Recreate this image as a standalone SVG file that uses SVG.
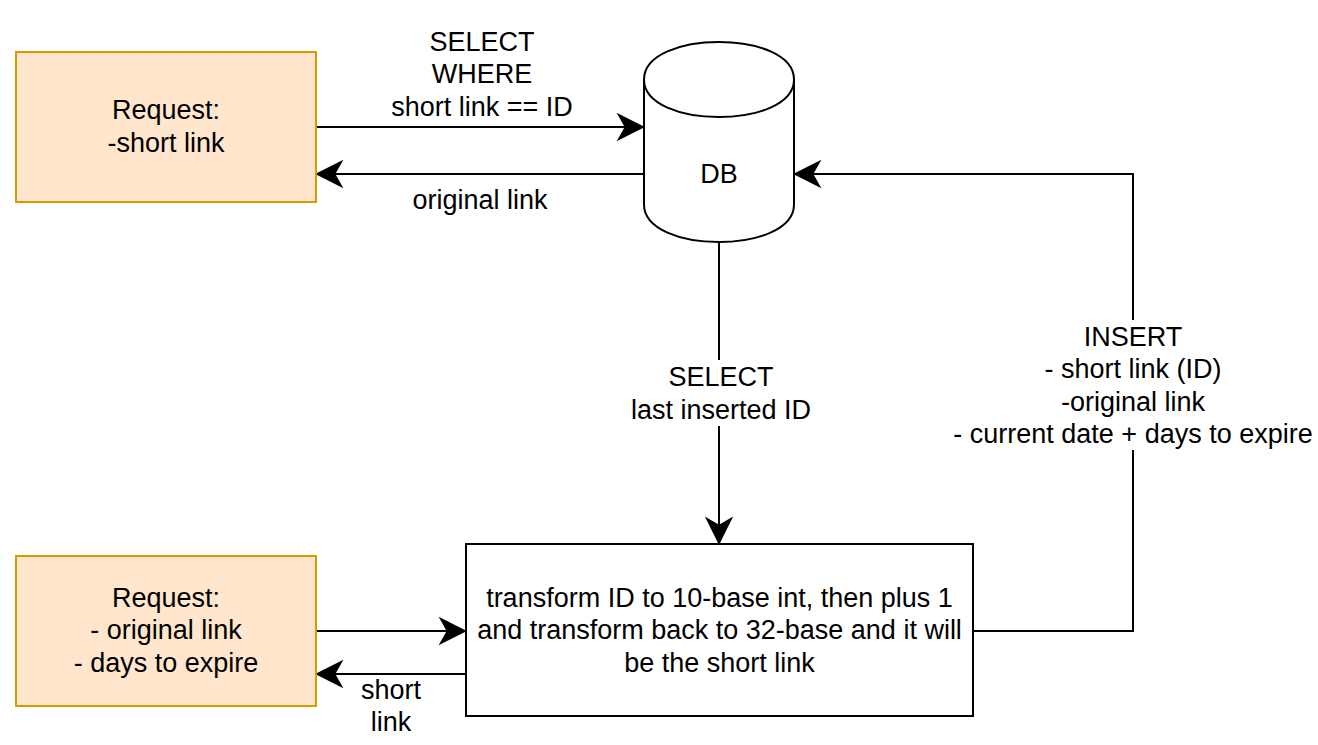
<svg xmlns="http://www.w3.org/2000/svg" width="1318" height="745" viewBox="0 0 1318 745">
  <style>
    text { font-family: "Liberation Sans", Arial, Helvetica, sans-serif; font-size: 27px; fill: #000000; text-anchor: middle; }
    .req { fill: #ffe6cc; stroke: #d79b00; stroke-width: 2; }
    .proc { fill: #ffffff; stroke: #000000; stroke-width: 2; }
    .edge { fill: none; stroke: #000000; stroke-width: 2; }
    .lblbg { fill: #ffffff; stroke: none; }
  </style>
  <defs>
    <marker id="arrow" markerUnits="userSpaceOnUse" markerWidth="30" markerHeight="30" viewBox="-24 -12 26 24" refX="0" refY="0" orient="auto">
      <path d="M0,0 L-21,-10.5 L-15,0 L-21,10.5 Z" fill="#000000" stroke="#000000" stroke-width="1.5" stroke-linejoin="miter"/>
    </marker>
  </defs>
  <rect width="1318" height="745" fill="#ffffff"/>

  <g id="connectors">
    <path class="edge" d="M316,127 L643,127" marker-end="url(#arrow)"/>
    <path class="edge" d="M644,174 L317,174" marker-end="url(#arrow)"/>
    <path class="edge" d="M719,242 L719,543" marker-end="url(#arrow)"/>
    <path class="edge" d="M973,631 L1133,631 L1133,174 L795,174" marker-end="url(#arrow)"/>
    <path class="edge" d="M316,631 L465,631" marker-end="url(#arrow)"/>
    <path class="edge" d="M466,674 L317,674" marker-end="url(#arrow)"/>
  </g>

  <g id="label-select-where">
    <text x="482" y="51">SELECT</text>
    <text x="482" y="83.3">WHERE</text>
    <text x="482" y="115.6">short link == ID</text>
  </g>
  <g id="label-original-link">
    <text x="480" y="208.5">original link</text>
  </g>
  <g id="label-select-last">
    <rect class="lblbg" x="628" y="360" width="186" height="66"/>
    <text x="721" y="386.3">SELECT</text>
    <text x="721" y="418.6">last inserted ID</text>
  </g>
  <g id="label-insert">
    <rect class="lblbg" x="946" y="320" width="372" height="130"/>
    <text x="1133" y="346">INSERT</text>
    <text x="1133" y="378.3">- short link (ID)</text>
    <text x="1133" y="410.6">-original link</text>
    <text x="1133" y="442.9">- current date + days to expire</text>
  </g>
  <g id="label-short-link">
    <text x="391" y="698.5">short</text>
    <text x="391" y="731">link</text>
  </g>

  <g id="request-short">
    <rect class="req" x="16" y="52" width="300" height="150"/>
    <text x="166" y="119.3">Request:</text>
    <text x="166" y="151.6">-short link</text>
  </g>

  <g id="db">
    <path class="proc" d="M644,79.5 C644,29.5 794,29.5 794,79.5 L794,204.5 C794,254.5 644,254.5 644,204.5 Z"/>
    <path class="edge" d="M644,79.5 C644,129.5 794,129.5 794,79.5"/>
    <text x="719" y="182.5">DB</text>
  </g>

  <g id="request-original">
    <rect class="req" x="16" y="556" width="300" height="150"/>
    <text x="166" y="607">Request:</text>
    <text x="166" y="639.3">- original link</text>
    <text x="166" y="671.6">- days to expire</text>
  </g>

  <g id="transform">
    <rect class="proc" x="466" y="544" width="507" height="172"/>
    <text x="719.5" y="607">transform ID to 10-base int, then plus 1</text>
    <text x="719.5" y="639.3">and transform back to 32-base and it will</text>
    <text x="719.5" y="671.6">be the short link</text>
  </g>
</svg>
